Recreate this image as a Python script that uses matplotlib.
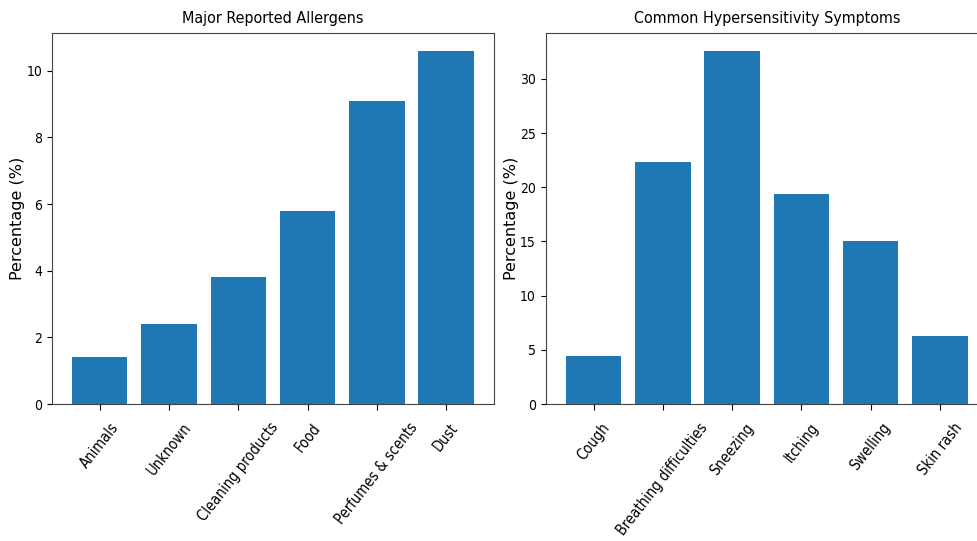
import matplotlib.pyplot as plt

allergens = ['Animals', 'Unknown', 'Cleaning products', 'Food', 'Perfumes & scents', 'Dust']
allergen_pct = [1.4, 2.4, 3.8, 5.8, 9.1, 10.6]

symptoms = ['Cough', 'Breathing difficulties', 'Sneezing', 'Itching', 'Swelling', 'Skin rash']
symptom_pct = [4.4, 22.3, 32.6, 19.4, 15.0, 6.3]

fig = plt.figure(figsize=(9.78, 5.41), dpi=100)
ax1 = fig.add_axes([0.053, 0.253, 0.452, 0.686])
ax2 = fig.add_axes([0.558, 0.253, 0.452, 0.686])


def draw_panel(ax, labels, values, title):
    ax.bar(range(len(values)), values, color='#1f77b4')
    ax.set_xticks(range(len(values)))
    ax.set_xticklabels(labels, rotation=52, ha='center',
                       fontsize=10.5, fontstretch='condensed')
    ax.tick_params(axis='x', length=4.5, pad=7)
    for t in ax.get_yticklabels():
        t.set_fontsize(10)
        t.set_fontstretch('condensed')
    ax.set_ylabel('Percentage (%)', fontsize=11.5, labelpad=1)
    ax.set_title(title, fontsize=11.5, fontstretch='condensed', pad=7)
    for s in ax.spines.values():
        s.set_color('#444444')


draw_panel(ax1, allergens, allergen_pct, 'Major Reported Allergens')
draw_panel(ax2, symptoms, symptom_pct, 'Common Hypersensitivity Symptoms')

fig.savefig('out.png', dpi=100)
